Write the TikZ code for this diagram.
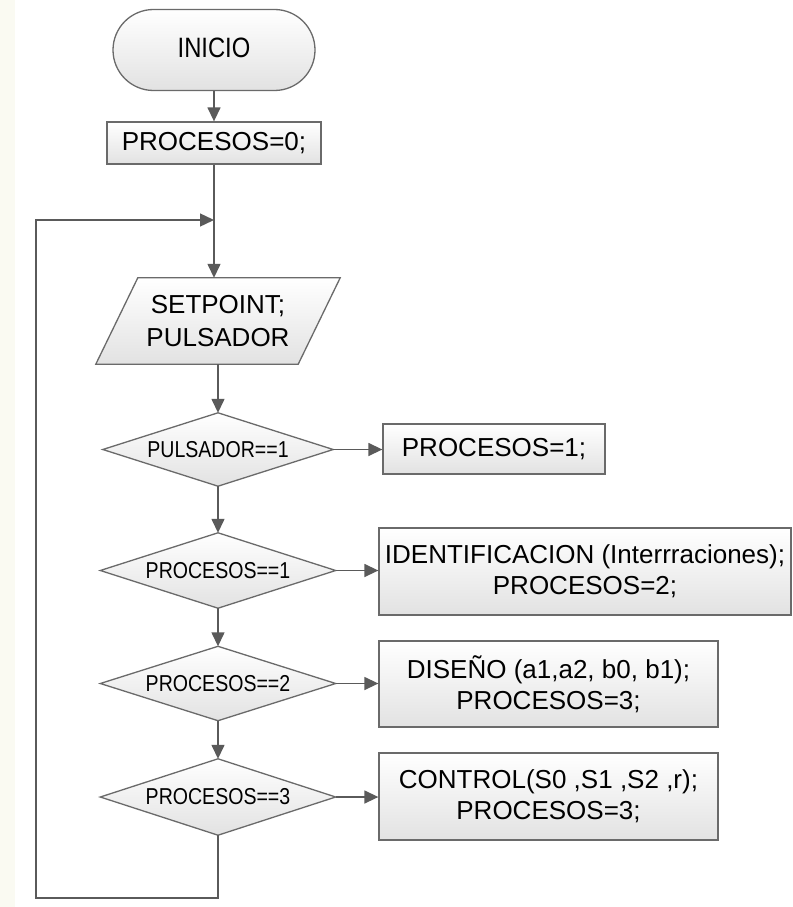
\documentclass[tikz,border=0pt]{standalone}
\usepackage{fontspec}
\setmainfont{Liberation Sans}
\usetikzlibrary{arrows.meta,backgrounds}
\definecolor{ln}{HTML}{5A5A5A}
\definecolor{bd}{HTML}{6A6A6A}
\definecolor{fillbot}{HTML}{E2E2E2}
\definecolor{cream}{HTML}{FAFAF2}
\begin{document}
\begin{tikzpicture}[x=1pt,y=-1pt,
  box/.style={draw=bd, line width=1.3pt, top color=white, bottom color=fillbot, inner sep=0pt, align=center, font=\fontsize{26}{31}\selectfont},
  txt/.style={inner sep=0pt, align=center, font=\fontsize{26}{33}\selectfont},
  dtxt/.style={inner sep=0pt, align=center, font=\fontsize{23}{26}\selectfont},
  conn/.style={draw=ln, line width=1.4pt, -{Triangle[length=14pt,width=13pt]}},
  shp/.style={draw=bd, line width=1.3pt, top color=white, bottom color=fillbot}
]
\useasboundingbox (0,0) rectangle (792,907);

\node[box, rounded corners=40.5pt, minimum width=202pt, minimum height=81pt] (ini) at (214,50) {\raisebox{4pt}{\scalebox{0.85}[1]{\fontsize{28}{30}\selectfont INICIO}}};
\node[box, minimum width=214pt, minimum height=42pt] (p0) at (214,143) {PROCESOS=0;};
\node[txt, minimum width=202pt, minimum height=86pt] (para) at (218,321) {SETPOINT;\\PULSADOR};

\node[dtxt, minimum width=230pt, minimum height=73pt] (d1) at (218,449.5) {\scalebox{0.85}[1]{PULSADOR==1}};
\node[dtxt, minimum width=235pt, minimum height=75pt] (d2) at (218,570.5) {\scalebox{0.85}[1]{PROCESOS==1}};
\node[dtxt, minimum width=235pt, minimum height=74pt] (d3) at (218,683.5) {\scalebox{0.85}[1]{PROCESOS==2}};
\node[dtxt, minimum width=235pt, minimum height=76pt] (d4) at (218,797) {\scalebox{0.85}[1]{PROCESOS==3}};

\node[box, minimum width=222pt, minimum height=50pt] (b1) at (494,449) {PROCESOS=1;};
\node[box, minimum width=412pt, minimum height=87pt] (b2) at (585,571.5) {IDENTIFICACION (Interrraciones);\\PROCESOS=2;};
\node[box, minimum width=339pt, minimum height=86pt] (b3) at (548.5,684) {DISEÑO (a1,a2, b0, b1);\\PROCESOS=3;};
\node[box, minimum width=339pt, minimum height=87pt] (b4) at (548.5,796.5) {CONTROL(S0 ,S1 ,S2 ,r);\\PROCESOS=3;};

\coordinate (lb) at (36,898);
\coordinate (jn) at (214,220);

\draw[conn] (ini) -- (p0);
\draw[conn] (p0.south) -- (p0.south |- para.north);
\draw[conn] (para) -- (d1);
\draw[conn] (d1) -- (d2);
\draw[conn] (d2) -- (d3);
\draw[conn] (d3) -- (d4);
\draw[conn] (d1.east) -- (d1.east -| b1.west);
\draw[conn] (d2.east) -- (d2.east -| b2.west);
\draw[conn] (d3.east) -- (d3.east -| b3.west);
\draw[conn] (d4.east) -- (d4.east -| b4.west);
\draw[conn] (d4.south) |- (lb) |- (jn);

\begin{scope}[on background layer]
  \fill[white] (0,0) rectangle (792,907);
  \fill[cream] (0,0) rectangle (15,907);
  \path[shp] ([xshift=21pt]para.north west) -- ([xshift=21pt]para.north east) -- ([xshift=-21pt]para.south east) -- ([xshift=-21pt]para.south west) -- cycle;
  \path[shp] (d1.north) -- (d1.east) -- (d1.south) -- (d1.west) -- cycle;
  \path[shp] (d2.north) -- (d2.east) -- (d2.south) -- (d2.west) -- cycle;
  \path[shp] (d3.north) -- (d3.east) -- (d3.south) -- (d3.west) -- cycle;
  \path[shp] (d4.north) -- (d4.east) -- (d4.south) -- (d4.west) -- cycle;
\end{scope}
\end{tikzpicture}
\end{document}
